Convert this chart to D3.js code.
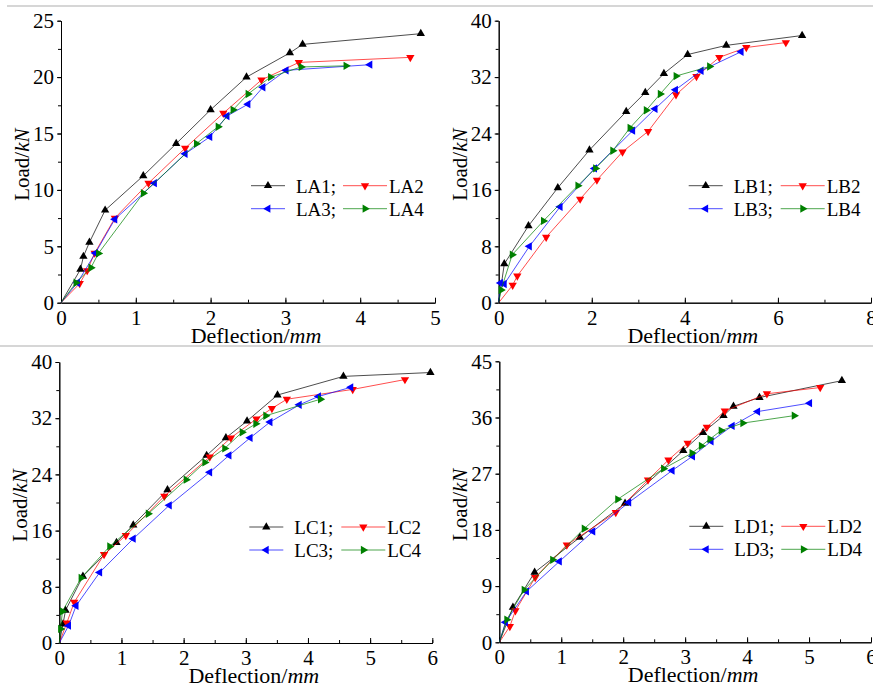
<!DOCTYPE html>
<html>
<head>
<meta charset="utf-8">
<script src="https://cdn.jsdelivr.net/npm/d3@7"></script>
<style>
  body { margin: 0; background: #fff; }
  svg { display: block; }
  text { font-family: "Liberation Serif", "Times New Roman", serif; fill: #000; }
  .tick text { font-size: 21px; }
  .domain, .tick line { stroke: #000; stroke-width: 1; }
</style>
</head>
<body>
<div id="chart"></div>
<script>
// data: [deflection (mm), load (kN)]
var LA1 = [[0,0],[0.26,2.95],[0.30,4.1],[0.38,5.35],[0.59,8.2],[1.1,11.25],[1.54,14.1],[2.0,17.1],[2.48,20.0],[3.06,22.15],[3.23,22.9],[4.81,23.85]];
var LA2 = [[0,0],[0.25,1.7],[0.35,2.85],[0.45,4.4],[0.72,7.5],[1.17,10.6],[1.66,13.7],[2.17,16.8],[2.68,19.75],[3.18,21.3],[4.67,21.75]];
var LA3 = [[0,0],[0.22,1.77],[0.46,4.4],[0.72,7.4],[1.25,10.6],[1.66,13.2],[1.99,14.7],[2.22,16.55],[2.5,17.6],[2.7,19.1],[3.01,20.6],[4.13,21.1]];
var LA4 = [[0,0],[0.2,1.77],[0.40,3.1],[0.5,4.37],[1.1,9.7],[1.81,14.1],[2.1,15.6],[2.3,17.1],[2.5,18.5],[2.8,20.0],[3.21,20.9],[3.81,21.0]];

var LB1 = [[0,0],[0.12,5.5],[0.64,10.9],[1.27,16.3],[1.95,21.65],[2.74,27.1],[3.15,29.8],[3.55,32.5],[4.06,35.2],[4.89,36.5],[6.52,37.9]];
var LB2 = [[0,0],[0.3,2.5],[0.4,3.8],[1.02,9.3],[1.75,14.7],[2.11,17.4],[2.66,21.4],[3.21,24.3],[3.81,29.5],[4.25,32.1],[4.74,34.8],[5.32,36.2],[6.17,36.9]];
var LB3 = [[0,0],[0.04,2.8],[0.12,2.65],[0.66,8.0],[1.32,13.6],[2.06,19.05],[2.88,24.4],[3.36,27.5],[3.8,30.2],[4.35,32.9],[5.21,35.6]];
var LB4 = [[0,0],[0.05,1.8],[0.29,6.8],[0.96,11.6],[1.7,16.6],[2.08,19.05],[2.45,21.55],[2.82,24.8],[3.17,27.3],[3.47,29.6],[3.81,32.15],[4.53,33.5]];

var LC1 = [[0,0],[0.06,2.7],[0.1,4.65],[0.38,9.5],[0.92,14.3],[1.19,16.8],[1.74,21.8],[2.37,26.7],[2.68,29.2],[3.02,31.6],[3.51,35.3],[4.57,37.95],[5.97,38.5]];
var LC2 = [[0,0],[0.12,2.85],[0.24,5.8],[0.72,12.6],[1.07,15.3],[1.69,20.9],[2.42,26.5],[2.76,29.2],[3.17,31.9],[3.42,33.4],[3.66,34.7],[4.72,36.1],[5.56,37.5]];
var LC3 = [[0,0],[0.15,2.47],[0.27,5.3],[0.65,10.05],[1.19,14.85],[1.77,19.6],[2.42,24.3],[2.73,26.7],[3.07,29.2],[3.39,31.45],[3.86,33.9],[4.17,35.1],[4.69,36.4]];
var LC4 = [[0,0],[0.02,2.0],[0.05,4.5],[0.35,9.25],[0.81,13.75],[1.43,18.4],[2.04,23.25],[2.34,25.7],[2.66,27.7],[2.94,30.0],[3.16,31.2],[3.32,32.35],[4.2,34.7]];

var LD1 = [[0,0],[0.22,5.6],[0.57,11.2],[1.3,16.8],[2.03,22.25],[2.97,30.7],[3.29,33.6],[3.62,36.3],[3.78,37.8],[4.2,39.2],[5.53,41.9]];
var LD2 = [[0,0],[0.17,2.55],[0.26,5.05],[0.58,10.4],[1.09,15.6],[1.88,20.8],[2.4,26.0],[2.73,29.2],[3.04,31.9],[3.35,34.45],[3.64,37.05],[4.32,39.8],[5.18,40.8]];
var LD3 = [[0,0],[0.1,3.2],[0.44,8.15],[0.97,12.95],[1.51,17.75],[2.09,22.4],[2.79,27.5],[3.12,29.8],[3.42,32.2],[3.76,34.65],[4.17,36.95],[5.01,38.3]];
var LD4 = [[0,0],[0.12,3.62],[0.4,8.4],[0.86,13.2],[1.37,18.2],[1.91,22.9],[2.65,27.8],[3.11,30.3],[3.26,31.45],[3.4,32.55],[3.58,33.9],[3.93,35.1],[4.76,36.3]];

// tick values
var xTicksA = [0, 1, 2, 3, 4, 5];
var yTicksA = [0, 5, 10, 15, 20, 25];
var xTicksB = [0, 2, 4, 6, 8];
var yTicksB = [0, 8, 16, 24, 32, 40];
var xTicksC = [0, 1, 2, 3, 4, 5, 6];
var yTicksC = [0, 8, 16, 24, 32, 40];
var xTicksD = [0, 1, 2, 3, 4, 5, 6];
var yTicksD = [0, 9, 18, 27, 36, 45];

// 1. svg --------------------------------------------
var svgWidth = 873;
var svgHeight = 688;

var svg = d3.select("#chart")
  .append("svg")
  .attr("width", svgWidth)
  .attr("height", svgHeight);

// gray separators from the page
svg.append("line").attr("x1", 7).attr("x2", svgWidth).attr("y1", 6).attr("y2", 6)
  .attr("stroke", "#c8c8c8").attr("stroke-width", 1.5);
svg.append("line").attr("x1", 0).attr("x2", svgWidth).attr("y1", 346).attr("y2", 346)
  .attr("stroke", "#c8c8c8").attr("stroke-width", 1.5);

var colors = ["#000000", "#ff0000", "#0000ff", "#008000"];
var rotations = [0, 180, -90, 90]; // up, down, left, right triangles
var markerPath = d3.symbol().type(d3.symbolTriangle).size(30);

// 2. panels ------------------------------------------
var panels = [
  { left: 61, right: 435, top: 20.7, bottom: 302.7, xTicks: xTicksA, yTicks: yTicksA, xMinor: 0.5, yMinor: 2.5,
    names: ["LA1;", "LA2", "LA3;", "LA4"], series: [LA1, LA2, LA3, LA4] },
  { left: 498.7, right: 871, top: 20.7, bottom: 302.7, xTicks: xTicksB, yTicks: yTicksB, xMinor: 1, yMinor: 4,
    names: ["LB1;", "LB2", "LB3;", "LB4"], series: [LB1, LB2, LB3, LB4] },
  { left: 59.3, right: 432.3, top: 362, bottom: 643, xTicks: xTicksC, yTicks: yTicksC, xMinor: 0.5, yMinor: 4,
    names: ["LC1;", "LC2", "LC3;", "LC4"], series: [LC1, LC2, LC3, LC4] },
  { left: 499.3, right: 871, top: 361.3, bottom: 642.3, xTicks: xTicksD, yTicks: yTicksD, xMinor: 0.5, yMinor: 4.5,
    names: ["LD1;", "LD2", "LD3;", "LD4"], series: [LD1, LD2, LD3, LD4] }
];

panels.forEach(function(p) {
  var xMax = p.xTicks[p.xTicks.length - 1];
  var yMax = p.yTicks[p.yTicks.length - 1];

  var xScale = d3.scaleLinear().domain([0, xMax]).range([p.left, p.right]);
  var yScale = d3.scaleLinear().domain([0, yMax]).range([p.bottom, p.top]);

  var g = svg.append("g");

  // minor ticks
  g.append("g")
    .attr("transform", `translate(0, ${p.bottom})`)
    .call(d3.axisBottom(xScale).tickValues(d3.range(0, xMax + 1e-9, p.xMinor))
      .tickSizeInner(-3).tickSizeOuter(0).tickFormat(""));
  g.append("g")
    .attr("transform", `translate(${p.left}, 0)`)
    .call(d3.axisLeft(yScale).tickValues(d3.range(0, yMax + 1e-9, p.yMinor))
      .tickSizeInner(3).tickSizeOuter(0).tickFormat(""));

  // major ticks
  g.append("g")
    .attr("transform", `translate(0, ${p.bottom})`)
    .call(d3.axisBottom(xScale).tickValues(p.xTicks)
      .tickSizeInner(-5).tickSizeOuter(0).tickPadding(7).tickFormat(d3.format("d")));
  g.append("g")
    .attr("transform", `translate(${p.left}, 0)`)
    .call(d3.axisLeft(yScale).tickValues(p.yTicks)
      .tickSizeInner(4).tickSizeOuter(0).tickPadding(3).tickFormat(d3.format("d")));

  g.selectAll(".tick text").attr("fill", "#000");

  // axis titles
  var xt = g.append("text")
    .attr("x", (p.left + p.right) / 2 + 8)
    .attr("y", p.bottom + 40)
    .attr("text-anchor", "middle")
    .style("font-size", "22px");
  xt.append("tspan").text("Deflection/");
  xt.append("tspan").style("font-style", "italic").text("mm");

  var yt = g.append("text")
    .attr("transform", `translate(${p.left - 32}, ${(p.top + p.bottom) / 2 + 3}) rotate(-90)`)
    .attr("text-anchor", "middle")
    .style("font-size", "21px");
  yt.append("tspan").text("Load/");
  yt.append("tspan").style("font-style", "italic").text("kN");

  // lines and markers
  var line = d3.line().x(d => xScale(d[0])).y(d => yScale(d[1]));

  p.series.forEach(function(s, i) {
    g.append("path")
      .datum(s)
      .attr("d", line)
      .attr("fill", "none")
      .attr("stroke", colors[i])
      .attr("stroke-width", 0.7);

    g.append("g").selectAll("path").data(s.slice(1)).enter().append("path")
      .attr("d", markerPath)
      .attr("transform", d => `translate(${xScale(d[0])}, ${yScale(d[1])}) rotate(${rotations[i]})`)
      .attr("fill", colors[i]);
  });

  // legend
  var legendPos = [
    { cx: 207, half: 17, tx: 235, row: 165 },
    { cx: 304, half: 22, tx: 328, row: 165 },
    { cx: 207, half: 17, tx: 235, row: 188 },
    { cx: 304, half: 22, tx: 328, row: 188 }
  ];
  p.names.forEach(function(name, i) {
    var lp = legendPos[i];
    var cx = p.left + lp.cx;
    var cy = p.top + lp.row;
    g.append("line")
      .attr("x1", cx - lp.half).attr("x2", cx + lp.half)
      .attr("y1", cy).attr("y2", cy)
      .attr("stroke", colors[i]).attr("stroke-width", 0.7);
    g.append("path")
      .attr("d", markerPath)
      .attr("transform", `translate(${cx}, ${cy}) rotate(${rotations[i]})`)
      .attr("fill", colors[i]);
    g.append("text")
      .attr("x", p.left + lp.tx)
      .attr("y", cy + 7)
      .style("font-size", "19px")
      .text(name);
  });
});
</script>
</body>
</html>
